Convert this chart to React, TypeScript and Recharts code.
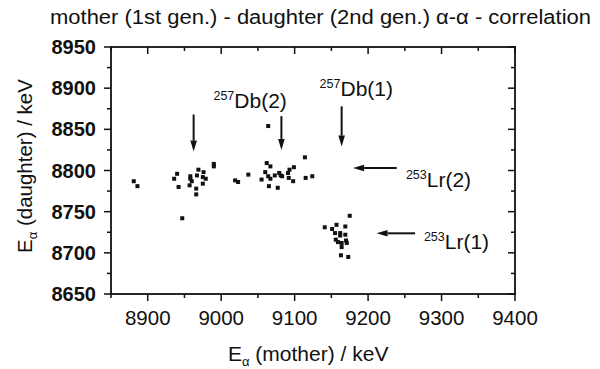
import React from 'react'
import {
  ScatterChart,
  Scatter,
  XAxis,
  YAxis,
  ReferenceLine,
  ReferenceDot
} from 'recharts'

// correlated pairs: [E_alpha mother, E_alpha daughter] in keV
const db257Line2: [number, number][] = [
  [8881, 8787], [8886, 8781], [8940, 8796], [8936, 8790], [8942, 8780],
  [8958, 8793], [8958, 8790], [8960, 8787], [8957, 8782], [8969, 8801],
  [8967, 8794], [8976, 8798], [8975, 8792], [8979, 8790], [8975, 8784],
  [8966, 8778], [8966, 8771], [8990, 8808], [8990, 8805], [8947, 8742],
  [9019, 8788], [9023, 8786]
]

const db257Line1: [number, number][] = [
  [9064, 8854], [9037, 8795], [9062, 8809], [9067, 8805], [9060, 8798],
  [9064, 8793], [9067, 8790], [9055, 8789], [9073, 8794], [9079, 8797],
  [9081, 8794], [9083, 8793], [9065, 8781], [9077, 8779], [9091, 8797],
  [9093, 8801], [9092, 8791], [9099, 8804], [9098, 8787], [9114, 8816],
  [9115, 8791], [9124, 8793]
]

const lr253Line1: [number, number][] = [
  [9175, 8745], [9141, 8731], [9151, 8729], [9157, 8734], [9155, 8724],
  [9162, 8724], [9162, 8721], [9169, 8732], [9169, 8722], [9156, 8716],
  [9159, 8713], [9164, 8712], [9170, 8715], [9171, 8712], [9164, 8707],
  [9163, 8697], [9173, 8695]
]

const X_MIN = 8850
const X_MAX = 9400
const Y_MIN = 8650
const Y_MAX = 8950
const xTicks = [8850, 8900, 8950, 9000, 9050, 9100, 9150, 9200, 9250, 9300, 9350, 9400]
const yTicks = [8650, 8675, 8700, 8725, 8750, 8775, 8800, 8825, 8850, 8875, 8900, 8925, 8950]

// arrows: [from mother, from daughter, to mother, to daughter]
const arrows: [number, number, number, number][] = [
  [8962.5, 8868, 8962.5, 8823],
  [9082, 8866, 9082, 8825],
  [9164, 8878, 9164, 8829],
  [9239, 8803, 9179.5, 8803],
  [9264, 8723.7, 9211.5, 8723.7]
]

const labelMass = ['257', '257', '253', '253']
const labelName = ['Db(2)', 'Db(1)', 'Lr(2)', 'Lr(1)']
const labelAt: [number, number][] = [
  [8989.5, 8876], [9134, 8890], [9251.5, 8780], [9276, 8704.5]
]

const toPoints = (rows: [number, number][]) => rows.map(([x, y]) => ({ x, y }))

const FONT = "'Liberation Sans', Arial, Helvetica, sans-serif"
const INK = '#111111'

const W = 600
const H = 369
const MARGIN = { top: 47, right: 85, bottom: 35, left: 51 }
const X_AXIS_H = 40
const Y_AXIS_W = 60

// plot box in pixels, same as what the margins and axis sizes give the chart
const LEFT = MARGIN.left + Y_AXIS_W
const RIGHT = W - MARGIN.right
const TOP = MARGIN.top
const BOTTOM = H - MARGIN.bottom - X_AXIS_H
const px = (v: number) => LEFT + ((v - X_MIN) / (X_MAX - X_MIN)) * (RIGHT - LEFT)
const py = (v: number) => BOTTOM - ((v - Y_MIN) / (Y_MAX - Y_MIN)) * (BOTTOM - TOP)

const Square = ({ cx, cy }: any) => (
  <rect x={cx - 2} y={cy - 2} width={4} height={4} fill={INK} />
)

function Arrow({ x1, y1, x2, y2 }: any) {
  const dx = x2 - x1
  const dy = y2 - y1
  const len = Math.hypot(dx, dy) || 1
  const ux = dx / len
  const uy = dy / len
  const hl = 11
  const hw = 3.3
  const bx = x2 - ux * hl
  const by = y2 - uy * hl
  return (
    <g>
      <line x1={x1} y1={y1} x2={bx} y2={by} stroke={INK} strokeWidth={2} />
      <polygon
        points={`${x2},${y2} ${bx - uy * hw},${by + ux * hw} ${bx + uy * hw},${by - ux * hw}`}
        fill={INK}
      />
    </g>
  )
}

function BottomLabel({ x, y, payload }: any) {
  if (payload.value % 100 !== 0 || payload.value === X_MIN) return <g />
  return (
    <text x={x} y={y + 31} textAnchor="middle" fontSize={20.5} fontFamily={FONT} fill={INK}>
      {payload.value}
    </text>
  )
}

function LeftLabel({ x, y, payload }: any) {
  if (payload.value % 50 !== 0) return <g />
  return (
    <text
      x={x - 15}
      y={y + 7}
      textAnchor="end"
      fontSize={20}
      fontWeight="bold"
      fontFamily={FONT}
      fill={INK}
    >
      {payload.value}
    </text>
  )
}

function IsotopeLabel({ cx, cy, mass, name }: any) {
  return (
    <text x={cx} y={cy} fontFamily={FONT} fill={INK}>
      <tspan fontSize={12.5} dy={-8}>{mass}</tspan>
      <tspan fontSize={21} dy={8}>{name}</tspan>
    </text>
  )
}

// frame with ticks: out at bottom/left, in at top/right; drawn as filled bars
function Frame() {
  const fw = 1.8
  const tw = 1.5
  return (
    <g fill={INK}>
      <rect x={LEFT - fw / 2} y={TOP - fw / 2} width={RIGHT - LEFT + fw} height={fw} />
      <rect x={LEFT - fw / 2} y={BOTTOM - fw / 2} width={RIGHT - LEFT + fw} height={fw} />
      <rect x={LEFT - fw / 2} y={TOP - fw / 2} width={fw} height={BOTTOM - TOP + fw} />
      <rect x={RIGHT - fw / 2} y={TOP - fw / 2} width={fw} height={BOTTOM - TOP + fw} />
      {xTicks.map((v) => {
        const len = v % 100 === 0 ? 7 : 4
        const x = px(v)
        return (
          <g key={`xt-${v}`}>
            <rect x={x - tw / 2} y={BOTTOM} width={tw} height={len} />
            <rect x={x - tw / 2} y={TOP} width={tw} height={len} />
          </g>
        )
      })}
      {yTicks.map((v) => {
        const len = v % 50 === 0 ? 7 : 4
        const y = py(v)
        return (
          <g key={`yt-${v}`}>
            <rect x={LEFT - len} y={y - tw / 2} width={len} height={tw} />
            <rect x={RIGHT - len} y={y - tw / 2} width={len} height={tw} />
          </g>
        )
      })}
    </g>
  )
}

export default function App() {
  return (
    <div style={{ position: 'absolute', left: 0, top: 0, width: W, height: H, background: '#fff' }}>
      <ScatterChart width={W} height={H} margin={MARGIN}>
        <XAxis
          type="number"
          dataKey="x"
          domain={[X_MIN, X_MAX]}
          ticks={xTicks}
          interval={0}
          height={X_AXIS_H}
          tickSize={0}
          tickMargin={0}
          axisLine={false}
          tick={<BottomLabel />}
        />
        <YAxis
          type="number"
          dataKey="y"
          domain={[Y_MIN, Y_MAX]}
          ticks={yTicks}
          interval={0}
          width={Y_AXIS_W}
          tickSize={0}
          tickMargin={0}
          axisLine={false}
          tick={<LeftLabel />}
        />
        <Scatter data={toPoints(db257Line2)} shape={<Square />} isAnimationActive={false} />
        <Scatter data={toPoints(db257Line1)} shape={<Square />} isAnimationActive={false} />
        <Scatter data={toPoints(lr253Line1)} shape={<Square />} isAnimationActive={false} />
        {arrows.map(([fx, fy, tx, ty], i) => (
          <ReferenceLine
            key={`arrow-${i}`}
            segment={[{ x: fx, y: fy }, { x: tx, y: ty }]}
            ifOverflow="visible"
            shape={(p: any) => <Arrow {...p} />}
          />
        ))}
        {labelAt.map(([lx, ly], i) => (
          <ReferenceDot
            key={`label-${i}`}
            x={lx}
            y={ly}
            r={0}
            ifOverflow="visible"
            shape={(p: any) => (
              <IsotopeLabel cx={p.cx} cy={p.cy} mass={labelMass[i]} name={labelName[i]} />
            )}
          />
        ))}
      </ScatterChart>
      <svg
        width={W}
        height={H}
        style={{ position: 'absolute', left: 0, top: 0, pointerEvents: 'none' }}
      >
        <Frame />
        <text x={50} y={24} fontSize={20} fontFamily={FONT} fill={INK} textLength={541} lengthAdjust="spacingAndGlyphs">
          mother (1st gen.) - daughter (2nd gen.) α-α - correlation
        </text>
        <text x={228} y={361} fontSize={21} fontFamily={FONT} fill={INK}>
          E<tspan fontSize={13} dy={5}>α</tspan>
          <tspan dy={-5}> (mother) / keV</tspan>
        </text>
        <text
          x={32}
          y={253}
          transform="rotate(-90, 32, 253)"
          fontSize={20.5}
          fontFamily={FONT}
          fill={INK}
        >
          E<tspan fontSize={13} dy={5}>α</tspan>
          <tspan dy={-5}> (daughter) / keV</tspan>
        </text>
      </svg>
    </div>
  )
}
